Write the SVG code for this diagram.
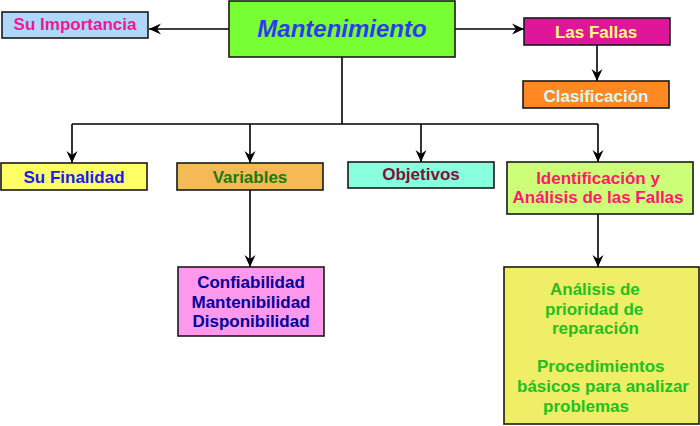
<svg xmlns="http://www.w3.org/2000/svg" width="700" height="426" viewBox="0 0 700 426">
<defs>
<marker id="ah" markerUnits="userSpaceOnUse" markerWidth="14" markerHeight="14" viewBox="0 0 14 14" refX="12" refY="7" orient="auto">
<path d="M0,1.5 L12,7 L0,12.5 L4,7 z" fill="#000"/>
</marker>
<style>
.box{stroke:#1a1a1a;stroke-width:1.6}
.t{font-family:"Liberation Sans",Arial,sans-serif;font-weight:bold;font-size:17px}
.c{text-anchor:middle}
.big{font-size:24px;font-style:italic}
.ln{stroke:#000;stroke-width:1.6;fill:none}
.ar{marker-end:url(#ah)}
</style>
</defs>
<rect width="700" height="426" fill="#fff"/>
<g id="connectors">
<line class="ln ar" x1="229" y1="29" x2="149" y2="29"/>
<line class="ln ar" x1="455" y1="29" x2="524" y2="29"/>
<line class="ln ar" x1="597" y1="45" x2="597" y2="81"/>
<polyline class="ln" points="342,57 342,124"/>
<polyline class="ln" points="72,124 598,124"/>
<line class="ln ar" x1="72" y1="124" x2="72" y2="163"/>
<line class="ln ar" x1="250" y1="124" x2="250" y2="163"/>
<line class="ln ar" x1="421" y1="124" x2="421" y2="162"/>
<line class="ln ar" x1="598" y1="124" x2="598" y2="162"/>
<line class="ln ar" x1="250" y1="190" x2="250" y2="267"/>
<line class="ln ar" x1="598" y1="214" x2="598" y2="267"/>
</g>
<g id="mantenimiento">
<rect class="box" x="229" y="1" width="226" height="56" fill="#77ff33"/>
<text class="t c big" x="342" y="37" fill="#2b3bf0">Mantenimiento</text>
</g>
<g id="su-importancia">
<rect class="box" x="2" y="12" width="146" height="26" fill="#b0d6f8"/>
<text class="t c" x="75" y="30" fill="#f0169a">Su Importancia</text>
</g>
<g id="las-fallas">
<rect class="box" x="524" y="18" width="146" height="27" fill="#e0169a"/>
<text class="t c" x="596" y="37.5" fill="#ffff80">Las Fallas</text>
</g>
<g id="clasificacion">
<rect class="box" x="523" y="81" width="146" height="27" fill="#ff8822"/>
<text class="t c" x="596" y="101.5" fill="#ccffff">Clasificación</text>
</g>
<g id="su-finalidad">
<rect class="box" x="1" y="163" width="146" height="27" fill="#ffff66"/>
<text class="t c" x="74" y="183" fill="#1a1aee">Su Finalidad</text>
</g>
<g id="variables">
<rect class="box" x="177" y="163" width="146" height="27" fill="#f5b955"/>
<text class="t c" x="250" y="183" fill="#1a7a10">Variables</text>
</g>
<g id="objetivos">
<rect class="box" x="348" y="162" width="146" height="26" fill="#88ffdd"/>
<text class="t c" x="421" y="180" fill="#80103a">Objetivos</text>
</g>
<g id="identificacion">
<rect class="box" x="507" y="162" width="186" height="52" fill="#ccff77"/>
<text class="t c" x="598" y="184" fill="#ff1a6e">Identificación y</text>
<text class="t c" x="598" y="203" fill="#ff1a6e">Análisis de las Fallas</text>
</g>
<g id="confiabilidad">
<rect class="box" x="178" y="267" width="146" height="69" fill="#ff99ee"/>
<text class="t c" fill="#000099"><tspan x="251" y="288">Confiabilidad</tspan><tspan x="251" y="308">Mantenibilidad</tspan><tspan x="251" y="327">Disponibilidad</tspan></text>
</g>
<g id="analisis">
<rect class="box" x="504" y="267" width="195" height="157" fill="#f0ee66"/>
<text class="t" fill="#22c022"><tspan x="550" y="295">Análisis de</tspan><tspan x="545" y="315">prioridad de</tspan><tspan x="552" y="334">reparación</tspan><tspan x="537" y="372">Procedimientos</tspan><tspan x="517" y="392">básicos para analizar</tspan><tspan x="543" y="412">problemas</tspan></text>
</g>
</svg>
